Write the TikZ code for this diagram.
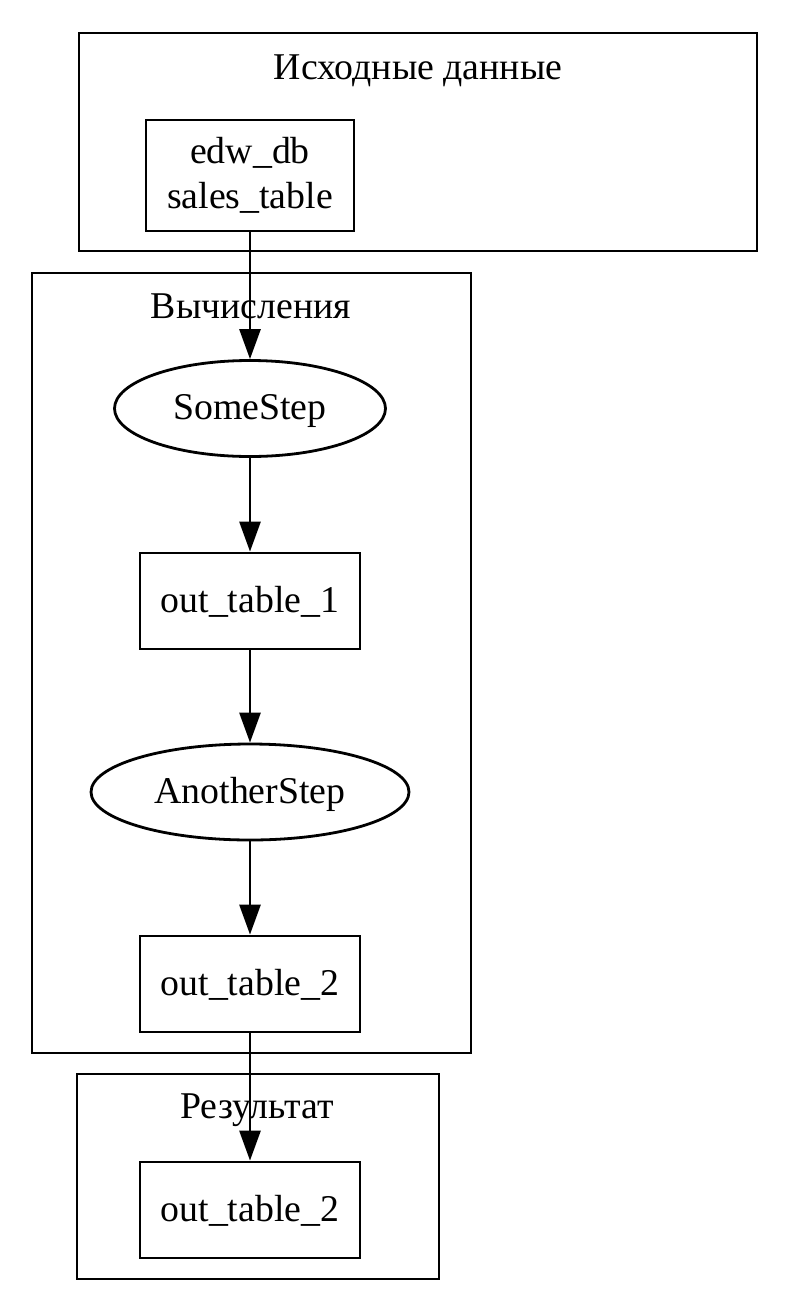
\documentclass[tikz,border=0pt]{standalone}
\usepackage{fontspec}
\setmainfont{Liberation Serif}
\usetikzlibrary{shapes.geometric,arrows.meta}
\tikzset{
  every node/.style={font=\fontsize{18.9}{22.7}\selectfont},
  oneline/.style={text height=14pt, text depth=3pt},
  tablebox/.style={draw, rectangle, inner sep=0pt, minimum width=110pt, minimum height=48pt, align=center},
  stepnode/.style={draw, ellipse, inner sep=0pt, minimum height=48pt, oneline},
  cluster/.style={draw},
  flow/.style={-{Triangle[length=15pt,width=10.5pt]}},
}
\begin{document}
\begin{tikzpicture}[x=0.5pt,y=-0.5pt,line width=1.4pt]
  \useasboundingbox (0,0) rectangle (788,1312);

  % Source data
  \draw[cluster] (79,33) rectangle (757,251);
  \node[anchor=base] (lblsrc) at (418,79) {Исходные данные};
  \node[tablebox, minimum width=104pt, minimum height=55.5pt] (src) at (250,175.5) {edw\_db\\sales\_table};

  % Calculations
  \draw[cluster] (32,273) rectangle (471,1053);
  \node[anchor=base] (lblcalc) at (251,318) {Вычисления};
  \node[stepnode, minimum width=135.5pt] (somestep) at (250,408.5) {SomeStep};
  \node[tablebox, oneline] (out1) at (250,601) {out\_table\_1};
  \node[stepnode, minimum width=159pt] (anotherstep) at (250,792) {AnotherStep};
  \node[tablebox, oneline] (out2) at (250,984) {out\_table\_2};

  % Result
  \draw[cluster] (77,1074) rectangle (439,1279);
  \node[anchor=base] (lblres) at (257,1118) {Результат};
  \node[tablebox, oneline] (res) at (250,1210) {out\_table\_2};

  % Edges
  \draw[flow] (src) -- (somestep);
  \draw[flow] (somestep) -- (out1);
  \draw[flow] (out1) -- (anotherstep);
  \draw[flow] (anotherstep) -- (out2);
  \draw[flow] (out2) -- (res);
\end{tikzpicture}
\end{document}
